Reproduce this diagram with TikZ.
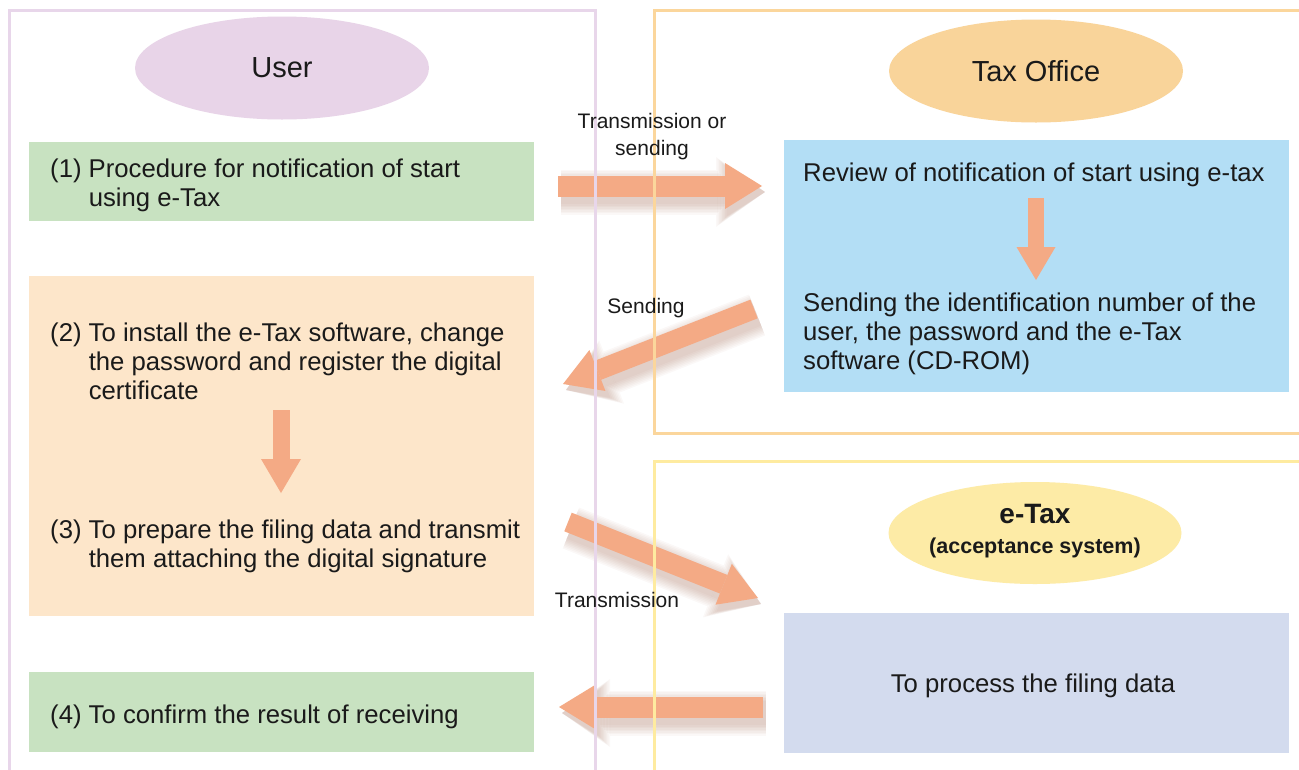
\documentclass[tikz,border=0pt]{standalone}
\usepackage{fontspec}
\setmainfont{Liberation Sans}
\usetikzlibrary{shapes.geometric,arrows.meta}
\definecolor{userpink}{HTML}{E8D4E8}
\definecolor{taxorange}{HTML}{F9D49A}
\definecolor{etaxyellow}{HTML}{FDEBA6}
\definecolor{boxgreen}{HTML}{C8E2C1}
\definecolor{boxpeach}{HTML}{FDE6CA}
\definecolor{boxblue}{HTML}{B3DEF5}
\definecolor{boxlav}{HTML}{D3DBEE}
\definecolor{arrowcol}{HTML}{F4AA85}
\definecolor{shadowcol}{HTML}{8B3A1A}
\definecolor{userframe}{HTML}{E8D6EA}
\definecolor{taxframe}{HTML}{FBD69C}
\definecolor{etaxframe}{HTML}{FEEBA0}
\definecolor{ink}{HTML}{1A1A1A}
\newcommand{\fatarrow}[5]{%
  \foreach \k in {1,...,8}{%
    \pgfmathsetmacro{\lw}{#3+3*\k}%
    \pgfmathsetmacro{\hw}{#4+3*\k}%
    \pgfmathsetmacro{\hl}{#5+1.5*\k}%
    \draw[shadowcol, opacity=0.03, line width=\lw pt,
      -{Triangle[length=\hl pt, width=\hw pt, line width=0pt]},
      transform canvas={shift={(3pt,-6pt)}}] (#1) -- (#2);
  }%
  \draw[arrowcol, line width=#3pt, -{Triangle[length=#5pt, width=#4pt, line width=0pt]}] (#1) -- (#2);
}
\newcommand{\flatarrow}[5]{%
  \draw[arrowcol, line width=#3pt, -{Triangle[length=#5pt, width=#4pt, line width=0pt]}] (#1) -- (#2);
}
\begin{document}
\begin{tikzpicture}[x=1pt,y=-1pt,
  box/.style={inner sep=0pt, minimum width=505, minimum height=#1},
  oval/.style={ellipse, inner sep=0pt, minimum width=294, minimum height=103, text=ink},
  title/.style={font=\fontsize{29}{32}\selectfont},
  body/.style={font=\fontsize{25.7}{29}\selectfont, text=ink, inner sep=0pt, align=left, anchor=base west},
  lab/.style={font=\fontsize{21}{27}\selectfont, text=ink, inner sep=0pt, align=center, anchor=base},
  frame/.style={line width=3pt}
]
\useasboundingbox (0,0) rectangle (1299,769);
\fill[white] (0,0) rectangle (1299,769);

% boxes
\node[box=79, fill=boxgreen] (b1) at (281.5,181.5) {};
\node[box=340, fill=boxpeach] (b23) at (281.5,446) {};
\node[box=80, fill=boxgreen] (b4) at (281.5,712) {};
\node[box=252, fill=boxblue] (rev) at (1036.5,266) {};
\node[box=140, fill=boxlav] (proc) at (1036.5,683) {};

% ovals
\node[oval, fill=userpink, title] (user) at (282,68) {User};
\node[oval, fill=taxorange, title] (tax) at (1036,71) {Tax Office};
\node[oval, fill=etaxyellow, minimum width=293, minimum height=102] (etax) at (1035,533) {};

% arrow end points
\coordinate (a1s) at (558,186);  \coordinate (a1e) at (762,186);
\coordinate (a2s) at (754,309);  \coordinate (a2e) at (563,384);
\coordinate (a3s) at (568,522);  \coordinate (a3e) at (758,598);
\coordinate (a4s) at (763,707);  \coordinate (a4e) at (559,707);
\coordinate (d1s) at (1036,198); \coordinate (d1e) at (1036,280);
\coordinate (d2s) at (281,410);  \coordinate (d2e) at (281,493);

\fatarrow{a1s}{a1e}{21}{46}{37}
\fatarrow{a2s}{a2e}{20}{44}{37}
\fatarrow{a3s}{a3e}{20}{44}{37}
\fatarrow{a4s}{a4e}{21}{44}{36}
\flatarrow{d1s}{d1e}{16}{39}{33}
\flatarrow{d2s}{d2e}{17}{40}{34}

% frames
\draw[frame, userframe] (9,771) -- (9,10) -- (595,10) -- (595,771);
\draw[frame, taxframe] (1301,10) -- (654,10) -- (654,433) -- (1301,433);
\draw[frame, etaxframe] (1301,461) -- (654,461) -- (654,771);

% texts
\node[font=\bfseries\fontsize{28}{30}\selectfont, text=ink, anchor=base, inner sep=0pt] (etaxt) at (1035,523) {e-Tax};
\node[font=\bfseries\fontsize{21.5}{24}\selectfont, text=ink, anchor=base, inner sep=0pt] (etaxs) at (1035,553) {(acceptance system)};

\node[body] (t1) at (50,206) {(1) Procedure for notification of start\\\hphantom{(1)~}using e-Tax};
\node[body] (t2) at (50,399) {(2) To install the e-Tax software, change\\\hphantom{(2)~}the password and register the digital\\\hphantom{(2)~}certificate};
\node[body] (t3) at (50,567) {(3) To prepare the filing data and transmit\\\hphantom{(3)~}them attaching the digital signature};
\node[body] (t4) at (50,723) {(4) To confirm the result of receiving};
\node[body] (t5) at (803,181) {Review of notification of start using e-tax};
\node[body] (t6) at (803,369) {Sending the identification number of the\\user, the password and the e-Tax\\software (CD-ROM)};
\node[body, anchor=base, align=center] (t7) at (1033,692) {To process the filing data};

\node[lab] (l1) at (652,155) {Transmission or\\sending};
\node[lab] (l2) at (646,313) {Sending};
\node[lab] (l3) at (617,607) {Transmission};
\end{tikzpicture}
\end{document}
